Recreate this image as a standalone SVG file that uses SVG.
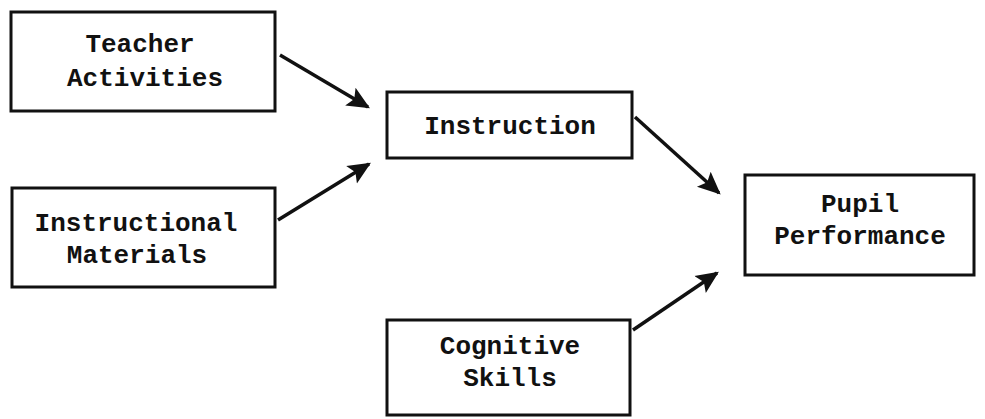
<svg xmlns="http://www.w3.org/2000/svg" width="985" height="419" viewBox="0 0 985 419">
<style>
.box{fill:#fff;stroke:#111;stroke-width:3}
.t{font-family:"Liberation Mono","Courier New",monospace;font-weight:bold;font-size:26px;fill:#111;text-anchor:middle}
.c{stroke:#111;stroke-width:3.5;fill:none}
</style>
<defs>
<marker id="ah" viewBox="0 0 10 10" refX="9" refY="5" markerWidth="6.5" markerHeight="6.5" markerUnits="strokeWidth" orient="auto">
<path d="M0,0.5 L10,5 L0,9.5 L2,5 z" fill="#111"/>
</marker>
</defs>
<rect width="985" height="419" fill="#fff"/>
<g id="teacher">
<rect class="box" x="11" y="12" width="264" height="99"/>
<text class="t" x="140" y="52">Teacher</text>
<text class="t" x="145" y="86">Activities</text>
</g>
<g id="materials">
<rect class="box" x="12" y="188" width="263" height="99"/>
<text class="t" x="136" y="231">Instructional</text>
<text class="t" x="137" y="263">Materials</text>
</g>
<g id="instruction">
<rect class="box" x="387" y="92" width="245" height="66"/>
<text class="t" x="510" y="134">Instruction</text>
</g>
<g id="pupil">
<rect class="box" x="745" y="175" width="229" height="100"/>
<text class="t" x="860" y="212">Pupil</text>
<text class="t" x="860" y="244">Performance</text>
</g>
<g id="cognitive">
<rect class="box" x="387" y="320" width="243" height="95"/>
<text class="t" x="510" y="354">Cognitive</text>
<text class="t" x="510" y="386">Skills</text>
</g>
<g id="connectors">
<line class="c" x1="280" y1="55" x2="368" y2="107" marker-end="url(#ah)"/>
<line class="c" x1="278" y1="220" x2="369" y2="164" marker-end="url(#ah)"/>
<line class="c" x1="635" y1="117" x2="719" y2="193" marker-end="url(#ah)"/>
<line class="c" x1="633" y1="330" x2="717" y2="273" marker-end="url(#ah)"/>
</g>
</svg>
